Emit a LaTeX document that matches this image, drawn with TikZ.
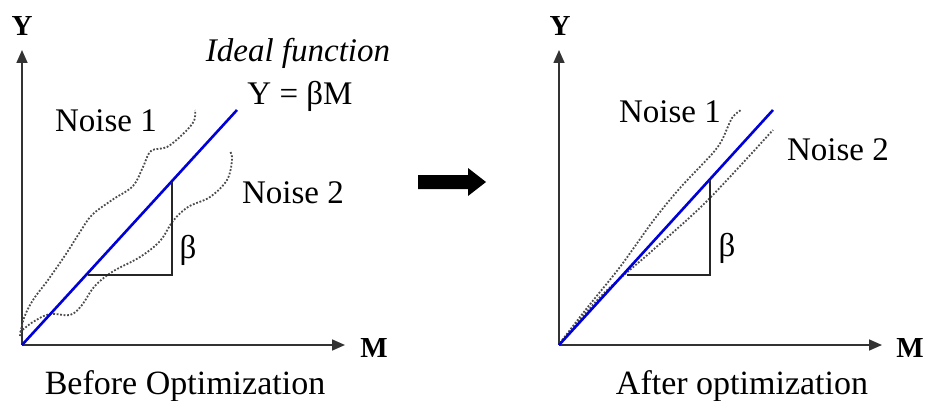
\documentclass[tikz,border=0pt]{standalone}
\usepackage{fontspec}
\setmainfont{Liberation Serif}
\usetikzlibrary{arrows.meta}
\begin{document}
\begin{tikzpicture}[x=1pt,y=-1pt,
  axis/.style={line width=1.6pt,draw=black!80,-{Triangle[length=13pt,width=11pt]}},
  ideal/.style={line width=2.6pt,draw=blue!85!black},
  noise/.style={line width=1.8pt,draw=black!70,dash pattern=on 1.8pt off 1.7pt},
  tri/.style={line width=1.3pt,draw=black!85},
  lbl/.style={inner sep=0pt,font=\fontsize{33}{38}\selectfont},
  axlbl/.style={inner sep=0pt,font=\fontsize{29}{34}\selectfont\bfseries}]
\useasboundingbox (0,0) rectangle (928,401);
% ---------- left panel ----------
\coordinate (O1) at (22,345);
\coordinate (Y1) at (22,50);
\coordinate (X1) at (345,345);
\draw[axis] (O1) -- (Y1);
\draw[axis] (O1) -- (X1);
\node[axlbl] (ylab1) at (22,26) {Y};
\node[axlbl] (mlab1) at (374,348) {M};
\draw[noise] plot[smooth,tension=0.6] coordinates {(20,336) (24,318) (33,300) (48,280) (66,254) (80,232) (92,215) (112,200) (133,186) (143,167) (151,151) (167,147) (183,134) (194,121) (195,110)};
\draw[noise] plot[smooth,tension=0.6] coordinates {(20,332) (33,322) (50,314) (70,315) (82,305) (94,287) (112,272) (140,257) (160,241) (173,221) (188,207) (210,197) (227,180) (232,160) (230,151)};
\coordinate (E1) at (237,110);
\draw[ideal] (O1) -- (E1);
\coordinate (A1) at (88,275);
\coordinate (B1) at (172,275);
\coordinate (C1) at (172,182);
\draw[tri] (A1) -- (B1) -- (C1);
\node[lbl] (beta1) at (188,250) {β};
\node[lbl,font=\fontsize{33}{38}\selectfont\itshape] (ideal) at (298,53) {Ideal function};
\node[lbl] (eq) at (300,96) {Y = βM};
\node[lbl] (n11) at (106,121) {Noise 1};
\node[lbl] (n12) at (293,193) {Noise 2};
\node[lbl,font=\fontsize{34}{38}\selectfont] (cap1) at (185,386) {Before Optimization};
% ---------- arrow ----------
\fill[black] (418,175) -- (468,175) -- (468,168) -- (486,182) -- (468,196) -- (468,189) -- (418,189) -- cycle;
% ---------- right panel ----------
\coordinate (O2) at (559,345);
\coordinate (Y2) at (559,50);
\coordinate (X2) at (882,345);
\draw[axis] (O2) -- (Y2);
\draw[axis] (O2) -- (X2);
\node[axlbl] (ylab2) at (560,26) {Y};
\node[axlbl] (mlab2) at (910,348) {M};
\draw[noise] plot[smooth,tension=0.5] coordinates {(560,343) (587,308) (620,267) (653,221) (680,188) (712,154) (722,140) (732,118) (741,110)};
\draw[noise] plot[smooth,tension=0.5] coordinates {(560,343) (603,294) (653,250) (707,201) (773,130)};
\coordinate (E2) at (773,110);
\draw[ideal] (O2) -- (E2);
\coordinate (A2) at (627,275);
\coordinate (B2) at (710,275);
\coordinate (C2) at (710,180);
\draw[tri] (A2) -- (B2) -- (C2);
\node[lbl] (beta2) at (727,248) {β};
\node[lbl] (n21) at (670,112) {Noise 1};
\node[lbl] (n22) at (838,150) {Noise 2};
\node[lbl,font=\fontsize{34}{38}\selectfont] (cap2) at (742,386) {After optimization};
\end{tikzpicture}
\end{document}
